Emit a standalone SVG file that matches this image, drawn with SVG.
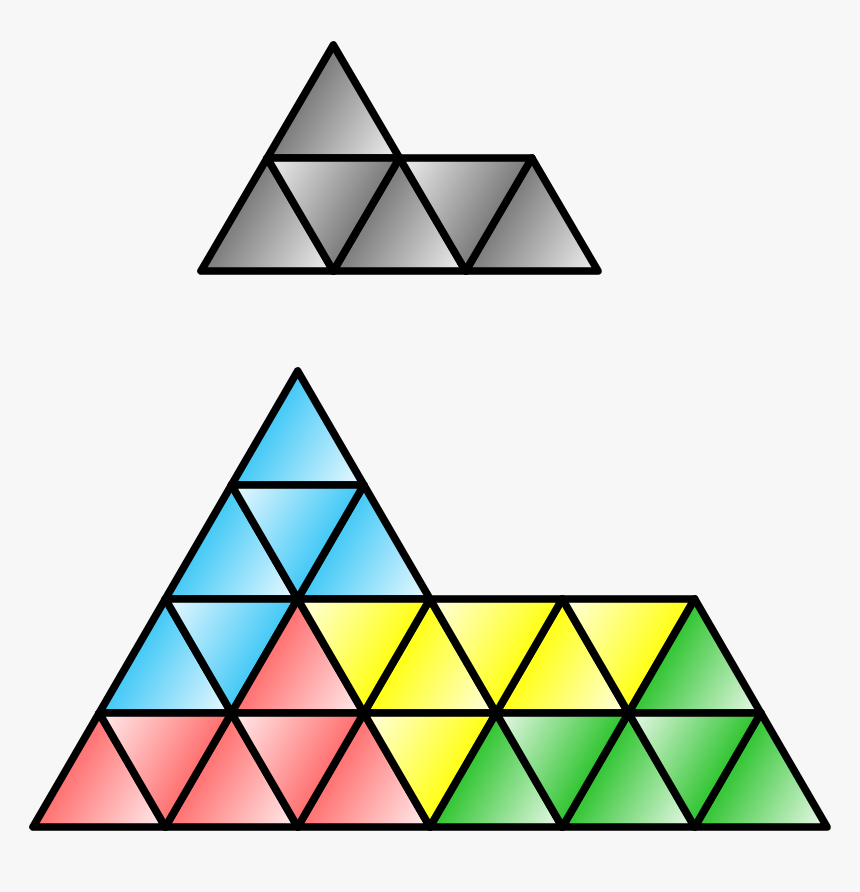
<svg xmlns="http://www.w3.org/2000/svg" width="860" height="892" viewBox="0 0 860 892">
<style>
.t{stroke:#000;stroke-width:7.6;stroke-linejoin:round}
.gu{fill:url(#grayU)}.gd{fill:url(#grayD)}
.bu{fill:url(#blueU)}.bd{fill:url(#blueD)}
.ru{fill:url(#redU)}.rd{fill:url(#redD)}
.yu{fill:url(#yelU)}.yd{fill:url(#yelD)}
.nu{fill:url(#grnU)}.nd{fill:url(#grnD)}
</style>
<defs>
<linearGradient id="grayU" x1="0.2" y1="0.6" x2="1" y2="1"><stop offset="0" stop-color="#7a7a7a"/><stop offset="1" stop-color="#f2f2f2"/></linearGradient>
<linearGradient id="grayD" x1="0" y1="0" x2="0.8" y2="0.4"><stop offset="0" stop-color="#f2f2f2"/><stop offset="1" stop-color="#7a7a7a"/></linearGradient>
<linearGradient id="blueU" x1="0.2" y1="0.6" x2="1" y2="1"><stop offset="0" stop-color="#40c8f6"/><stop offset="1" stop-color="#eefaff"/></linearGradient>
<linearGradient id="blueD" x1="0" y1="0" x2="0.8" y2="0.4"><stop offset="0" stop-color="#eefaff"/><stop offset="1" stop-color="#40c8f6"/></linearGradient>
<linearGradient id="redU" x1="0.2" y1="0.6" x2="1" y2="1"><stop offset="0" stop-color="#ff6e6e"/><stop offset="1" stop-color="#fff0f0"/></linearGradient>
<linearGradient id="redD" x1="0" y1="0" x2="0.8" y2="0.4"><stop offset="0" stop-color="#fff0f0"/><stop offset="1" stop-color="#ff6e6e"/></linearGradient>
<linearGradient id="yelU" x1="0.2" y1="0.6" x2="1" y2="1"><stop offset="0" stop-color="#ffff10"/><stop offset="1" stop-color="#ffffe8"/></linearGradient>
<linearGradient id="yelD" x1="0" y1="0" x2="0.8" y2="0.4"><stop offset="0" stop-color="#ffffe8"/><stop offset="1" stop-color="#ffff10"/></linearGradient>
<linearGradient id="grnU" x1="0.2" y1="0.6" x2="1" y2="1"><stop offset="0" stop-color="#2ec42e"/><stop offset="1" stop-color="#effaef"/></linearGradient>
<linearGradient id="grnD" x1="0" y1="0" x2="0.8" y2="0.4"><stop offset="0" stop-color="#effaef"/><stop offset="1" stop-color="#2ec42e"/></linearGradient>
</defs>
<rect width="860" height="892" fill="#f7f7f7"/>
<g id="gray-piece">
<polygon class="t gu" points="267.17,158 399.5,158 333.33,45"/>
<polygon class="t gu" points="201,271 333.33,271 267.17,158"/>
<polygon class="t gu" points="333.33,271 465.67,271 399.5,158"/>
<polygon class="t gu" points="465.67,271 598,271 531.83,158"/>
<polygon class="t gd" points="267.17,158 399.5,158 333.33,271"/>
<polygon class="t gd" points="399.5,158 531.83,158 465.67,271"/>
</g>
<g id="blue-piece">
<polygon class="t bu" points="231.5,485 363.83,485 297.67,371"/>
<polygon class="t bu" points="165.33,599 297.67,599 231.5,485"/>
<polygon class="t bu" points="297.67,599 430,599 363.83,485"/>
<polygon class="t bd" points="231.5,485 363.83,485 297.67,599"/>
<polygon class="t bu" points="99.17,713 231.5,713 165.33,599"/>
<polygon class="t bd" points="165.33,599 297.67,599 231.5,713"/>
</g>
<g id="red-piece">
<polygon class="t ru" points="231.5,713 363.83,713 297.67,599"/>
<polygon class="t ru" points="33,827 165.33,827 99.17,713"/>
<polygon class="t ru" points="165.33,827 297.67,827 231.5,713"/>
<polygon class="t ru" points="297.67,827 430,827 363.83,713"/>
<polygon class="t rd" points="99.17,713 231.5,713 165.33,827"/>
<polygon class="t rd" points="231.5,713 363.83,713 297.67,827"/>
</g>
<g id="yellow-piece">
<polygon class="t yu" points="363.83,713 496.17,713 430,599"/>
<polygon class="t yu" points="496.17,713 628.5,713 562.33,599"/>
<polygon class="t yd" points="297.67,599 430,599 363.83,713"/>
<polygon class="t yd" points="430,599 562.33,599 496.17,713"/>
<polygon class="t yd" points="562.33,599 694.67,599 628.5,713"/>
<polygon class="t yd" points="363.83,713 496.17,713 430,827"/>
</g>
<g id="green-piece">
<polygon class="t nu" points="628.5,713 760.83,713 694.67,599"/>
<polygon class="t nu" points="430,827 562.33,827 496.17,713"/>
<polygon class="t nu" points="562.33,827 694.67,827 628.5,713"/>
<polygon class="t nu" points="694.67,827 827,827 760.83,713"/>
<polygon class="t nd" points="496.17,713 628.5,713 562.33,827"/>
<polygon class="t nd" points="628.5,713 760.83,713 694.67,827"/>
</g>
</svg>
